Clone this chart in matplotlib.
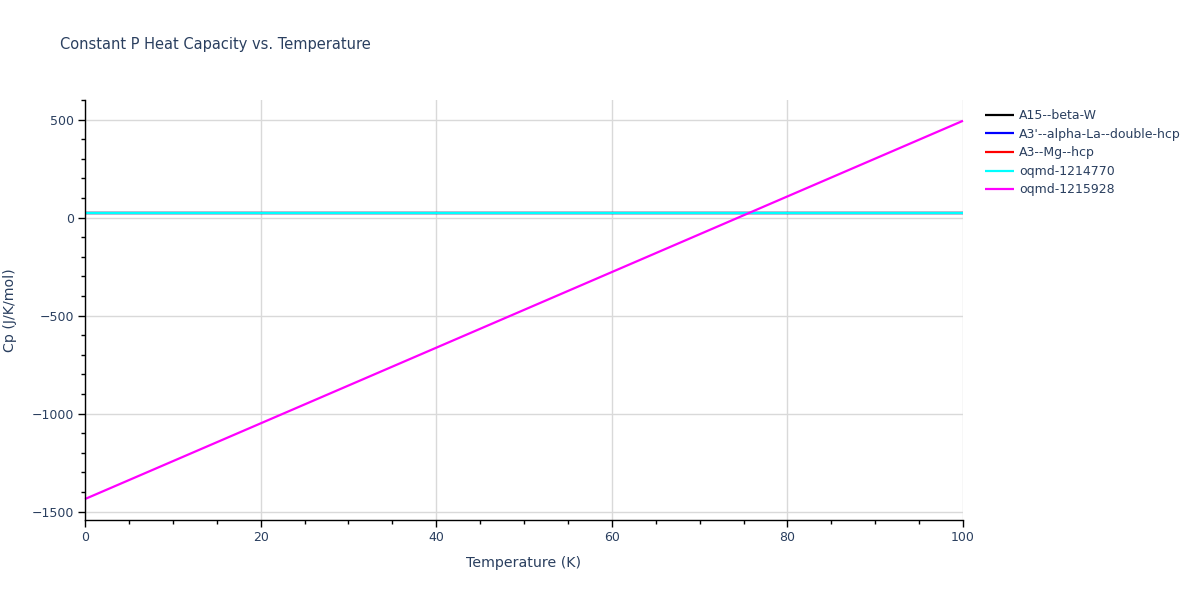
import numpy as np
import matplotlib
matplotlib.use("Agg")
import matplotlib.pyplot as plt
from matplotlib.ticker import MultipleLocator

# =============================================================================
# DATOS
# =============================================================================
temperature = [0, 100]
series_names = ["A15--beta-W", "A3'--alpha-La--double-hcp", "A3--Mg--hcp",
                "oqmd-1214770", "oqmd-1215928"]
series_colors = ["#000000", "#0000ff", "#ff0000", "#00ffff", "#ff00ff"]
cp_a15 = [24, 24]
cp_a3p = [24, 24]
cp_a3 = [24, 24]
cp_oqmd_1214770 = [24, 24]
cp_oqmd_1215928 = [-1436, 494]

TEXT_COLOR = "#2a3f5f"
GRID_COLOR = "#d9d9d9"

# =============================================================================
# FIGURA
# =============================================================================
fig = plt.figure(figsize=(12, 6), dpi=100)
ax = fig.add_axes([85 / 1200, 80 / 600, 878 / 1200, 420 / 600])

all_series = [cp_a15, cp_a3p, cp_a3, cp_oqmd_1214770, cp_oqmd_1215928]
for name, color, vals in zip(series_names, series_colors, all_series):
    ax.plot(temperature, vals, color=color, lw=1.6, label=name,
            solid_capstyle="butt", clip_on=False)

ax.set_xlim(0, 100)
ax.set_ylim(-1543, 600)
ax.xaxis.set_major_locator(MultipleLocator(20))
ax.xaxis.set_minor_locator(MultipleLocator(5))
ax.yaxis.set_major_locator(MultipleLocator(500))
ax.yaxis.set_minor_locator(MultipleLocator(100))

ax.grid(True, which="major", color=GRID_COLOR, lw=1)
ax.set_axisbelow(True)
for side in ["top", "right"]:
    ax.spines[side].set_visible(False)
for side in ["left", "bottom"]:
    ax.spines[side].set_color("black")
    ax.spines[side].set_linewidth(1)

ax.tick_params(which="major", direction="out", length=5, width=1,
               color="black", labelsize=9, labelcolor=TEXT_COLOR, pad=3)
ax.tick_params(which="minor", direction="out", length=3, width=1, color="black")
ax.set_yticklabels([f"{int(v)}".replace("-", "\u2212") for v in ax.get_yticks()])

ax.set_xlabel("Temperature (K)", fontsize=10.2, color=TEXT_COLOR)
ax.set_ylabel("Cp (J/K/mol)", fontsize=10.2, color=TEXT_COLOR)
# posiciones en pixeles de la figura
ax.xaxis.set_label_coords(0.5, -(563 - 520) / 420)
ax.yaxis.set_label_coords(-(85 - 10) / 878, 0.5)
ax.xaxis.label.set_va("center")
ax.yaxis.label.set_va("center")

fig.text(60 / 1200, 1 - 45 / 600, "Constant P Heat Capacity vs. Temperature",
         fontsize=10.5, color=TEXT_COLOR, va="center", ha="left")

handles, labels = ax.get_legend_handles_labels()
leg = fig.legend(handles, labels, loc="upper left",
                 bbox_to_anchor=(980 / 1200, 1 - 104 / 600),
                 frameon=False, fontsize=9, handlelength=2.3,
                 handletextpad=0.4, labelspacing=0.45, borderaxespad=0)
for t in leg.get_texts():
    t.set_color(TEXT_COLOR)

fig.savefig("out.png", dpi=100, facecolor="white")
